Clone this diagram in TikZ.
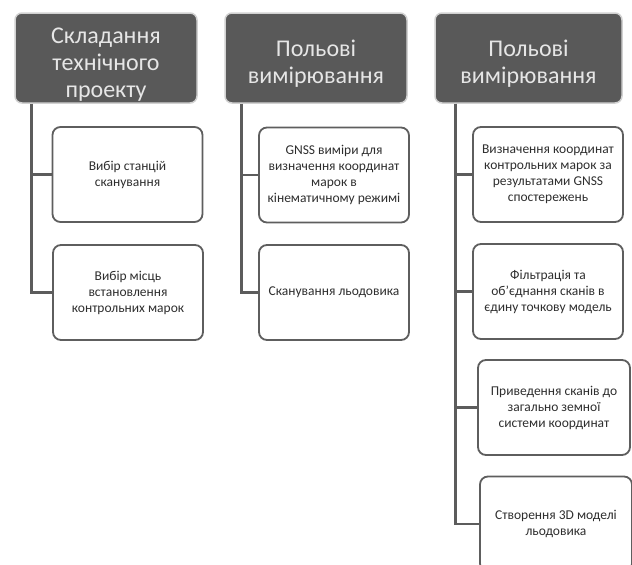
\documentclass[tikz,border=0pt]{standalone}
\usepackage{fontspec}
\setmainfont{Carlito}
\usetikzlibrary{calc}
\definecolor{hdrfill}{HTML}{595959}
\definecolor{hdrtext}{HTML}{E6E6E6}
\definecolor{boxline}{HTML}{5E5E5E}
\definecolor{connline}{HTML}{5C5C5C}
\definecolor{boxtext}{HTML}{2E2E2E}
\newcommand{\hdrstrut}{\rule{0pt}{28pt}}
\tikzset{
  hdr/.style={draw=white!82!black, line width=1.5pt, fill=hdrfill, rounded corners=7pt,
    text=hdrtext, align=center, minimum width=182pt, minimum height=90pt, inner sep=2pt,
    font=\fontsize{24}{27}\selectfont},
  child/.style={draw=boxline, line width=1.8pt, fill=white, rounded corners=8pt,
    text=boxtext, align=center, minimum width=150pt, minimum height=95pt, inner sep=2pt,
    font=\fontsize{13.5}{16}\selectfont},
  conn/.style={draw=connline, line width=2.6pt}
}
\begin{document}
\begin{tikzpicture}[x=1pt,y=-1pt]
\useasboundingbox (0,0) rectangle (632,565);
\fill[white] (0,0) rectangle (632,565);
\begin{scope}
\clip (0,0) rectangle (632,565);
% headers
\node[hdr] (h1) at (106,58) {\hdrstrut Складання\\технічного\\проекту};
\node[hdr] (h2) at (316,58) {\hdrstrut Польові\\вимірювання};
\node[hdr, minimum width=187pt] (h3) at (528.5,58) {\hdrstrut Польові\\вимірювання};
% connector tops
\coordinate (t1) at ($(h1.south west)+(17,0)$);
\coordinate (t2) at ($(h2.south west)+(17,0)$);
\coordinate (t3) at ($(h3.south west)+(21,0)$);
% column 1
\node[child] (a1) at (127.5,174.5) {Вибір станцій\\сканування};
\node[child] (a2) at (128,292.5) {Вибір місць\\встановлення\\контрольних марок};
% column 2
\node[child] (b1) at (334,175) {GNSS виміри для\\визначення координат\\марок в\\кінематичному режимі};
\node[child] (b2) at (334,292.5) {Сканування льодовика};
% column 3
\node[child] (c1) at (548,174.5) {Визначення координат\\контрольних марок за\\результатами GNSS\\спостережень};
\node[child] (c2) at (548,291.5) {Фільтрація та\\об'єднання сканів в\\єдину точкову модель};
\node[child, minimum width=152pt] (c3) at (554,407.5) {Приведення сканів до\\загально земної\\системи координат};
\node[child, minimum width=152pt] (c4) at (556,524) {Створення 3D моделі\\льодовика};
\draw[conn] (t1) |- (a2.west);
\draw[conn] (t1) |- (a1.west);
\draw[conn] (t2) |- (b2.west);
\draw[conn] (t2) |- (b1.west);
\draw[conn] (t3) |- (c4.west);
\draw[conn] (t3) |- (c3.west);
\draw[conn] (t3) |- (c2.west);
\draw[conn] (t3) |- (c1.west);
\end{scope}
\end{tikzpicture}
\end{document}
